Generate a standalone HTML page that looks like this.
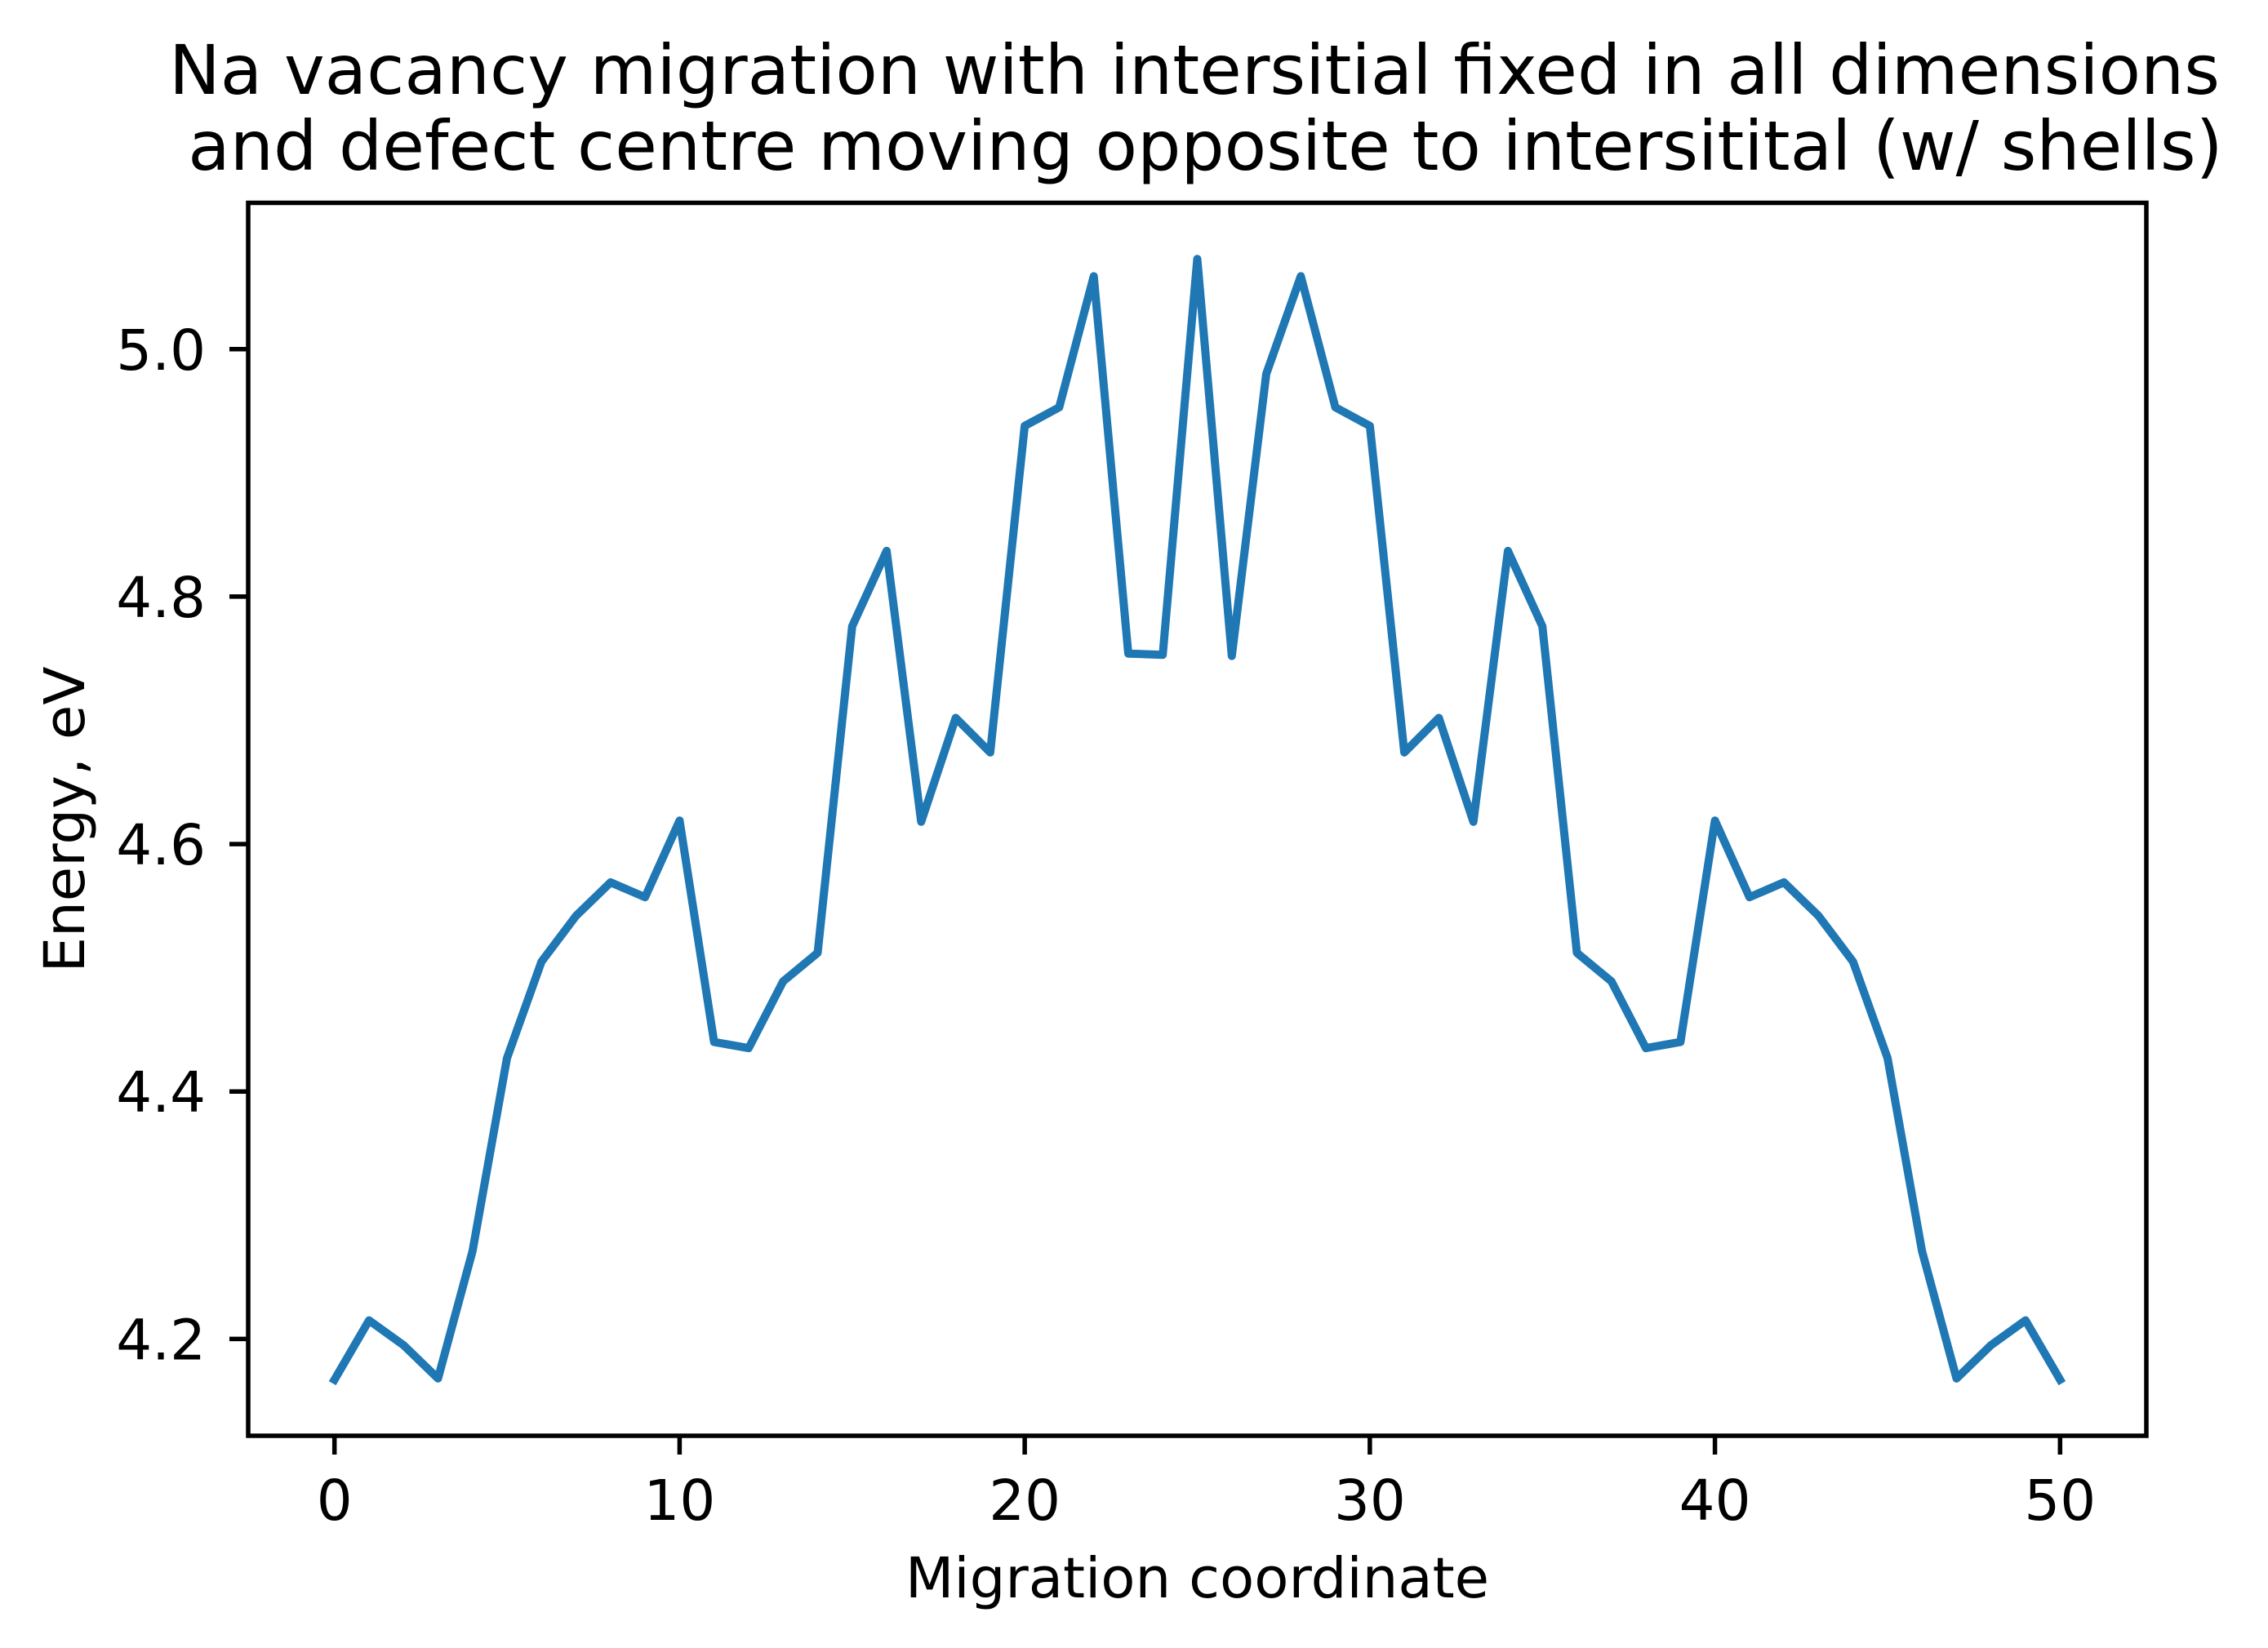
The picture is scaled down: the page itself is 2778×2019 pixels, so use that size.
<!DOCTYPE html>
<html><head><meta charset="utf-8"><style>
html,body{margin:0;padding:0;background:#fff;}
svg{display:block;font-family:"DejaVu Sans","Liberation Sans",sans-serif;}
</style></head><body>
<svg id="chart" width="2778" height="2019" viewBox="0 0 2778 2019" xmlns="http://www.w3.org/2000/svg">
<rect width="2778" height="2019" fill="#fff"/>
<text x="1463" y="115" font-size="84" text-anchor="middle" fill="#000" xml:space="preserve">Na vacancy migration with intersitial fixed in all dimensions</text>
<text x="1463" y="208" font-size="84" text-anchor="middle" fill="#000" xml:space="preserve"> and defect centre moving opposite to intersitital (w/ shells)</text>
<g id="xticks"></g>
<g id="yticks"></g>
<polyline id="line" fill="none" stroke="#1f77b4" stroke-width="10" stroke-linejoin="round" stroke-linecap="square"/>
<rect x="304" y="248.5" width="2325" height="1510.5" fill="none" stroke="#000" stroke-width="5.5"/>
<text x="1466.5" y="1957" font-size="69" text-anchor="middle" fill="#000">Migration coordinate</text>
<text x="0" y="0" font-size="69" text-anchor="middle" fill="#000" transform="translate(103,1004) rotate(-90)">Energy, eV</text>
</svg>
<script>
const coords = [0,1,2,3,4,5,6,7,8,9,10,11,12,13,14,15,16,17,18,19,20,21,22,23,24,25,26,27,28,29,30,31,32,33,34,35,36,37,38,39,40,41,42,43,44,45,46,47,48,49,50];
const energies = [4.167,4.215,4.195,4.168,4.271,4.427,4.505,4.542,4.569,4.557,4.619,4.440,4.435,4.489,4.512,4.776,4.837,4.618,4.702,4.674,4.938,4.953,5.059,4.754,4.753,5.073,4.752,4.980,5.059,4.953,4.938,4.674,4.702,4.618,4.837,4.776,4.512,4.489,4.435,4.440,4.619,4.557,4.569,4.542,4.505,4.427,4.271,4.168,4.195,4.215,4.167];
const xTickValues = [0,10,20,30,40,50];
const yTickValues = [4.2,4.4,4.6,4.8,5.0];
const yTickLabels = ["4.2","4.4","4.6","4.8","5.0"];

const L=304, R=2629, T=248.5, B=1759;
const xmin=-2.5, xmax=52.5;
const emin=Math.min(...energies), emax=Math.max(...energies);
const ymin=emin-0.05*(emax-emin), ymax=emax+0.05*(emax-emin);
function xs(v){return L+(v-xmin)/(xmax-xmin)*(R-L);}
function ys(v){return B-(v-ymin)/(ymax-ymin)*(B-T);}
const NS="http://www.w3.org/2000/svg";

document.getElementById('line').setAttribute('points', coords.map((c,i)=>xs(c).toFixed(1)+','+ys(energies[i]).toFixed(1)).join(' '));

const xg=document.getElementById('xticks');
xTickValues.forEach(v=>{
  const t=document.createElementNS(NS,'line');
  
  
  t.setAttribute('x1',xs(v));t.setAttribute('x2',xs(v));
  t.setAttribute('y1',B);t.setAttribute('y2',B+23);
  t.setAttribute('stroke','#000');t.setAttribute('stroke-width','5.5');
  xg.appendChild(t);
  const s=document.createElementNS(NS,'text');
  
  
  s.setAttribute('x',xs(v));s.setAttribute('y',1862);
  s.setAttribute('font-size','69');s.setAttribute('text-anchor','middle');
  s.textContent=String(v);
  xg.appendChild(s);
});
const yg=document.getElementById('yticks');
yTickValues.forEach((v,i)=>{
  const t=document.createElementNS(NS,'line');
  
  
  t.setAttribute('x1',L-23);t.setAttribute('x2',L);
  t.setAttribute('y1',ys(v));t.setAttribute('y2',ys(v));
  t.setAttribute('stroke','#000');t.setAttribute('stroke-width','5.5');
  yg.appendChild(t);
  const s=document.createElementNS(NS,'text');
  
  
  s.setAttribute('x',252);s.setAttribute('y',ys(v)+25);
  s.setAttribute('font-size','69');s.setAttribute('text-anchor','end');
  s.textContent=yTickLabels[i];
  yg.appendChild(s);
});
</script>
</body></html>
